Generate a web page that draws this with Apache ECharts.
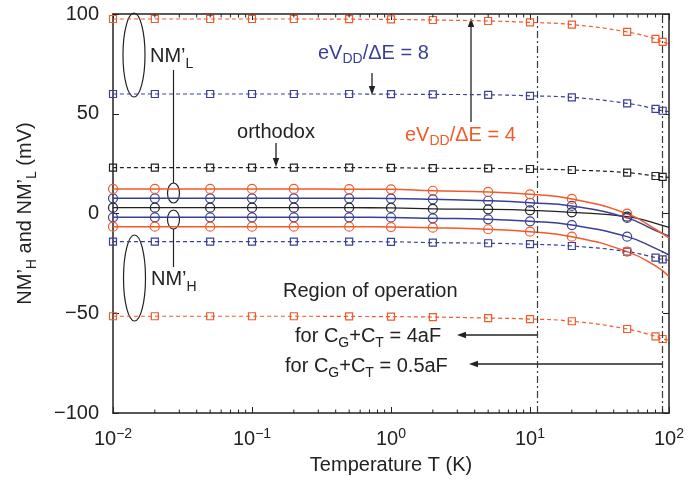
<!DOCTYPE html>
<html>
<head>
<meta charset="utf-8">
<script src="https://cdn.jsdelivr.net/npm/echarts@6/dist/echarts.min.js"></script>
<style>
  html, body { margin: 0; padding: 0; background: #fff; }
  #chart { width: 693px; height: 487px; }
</style>
</head>
<body>
<div id="chart"></div>
<script>
const FONT = '"Liberation Sans", Arial, Helvetica, sans-serif';
const ORANGE = '#f15a29';
const BLUE = '#3a3f98';
const BLACK = '#222222';

// Temperatures (K) at which the noise margins were evaluated
const tempSquares = [0.01, 0.02, 0.05, 0.1, 0.2, 0.5, 1, 2, 5, 10, 20, 50, 80, 90, 100];
const tempCircles = [0.01, 0.02, 0.05, 0.1, 0.2, 0.5, 1, 2, 5, 10, 20, 50, 80, 100];
const lastMarkedSquareT = 90;
const lastMarkedCircleT = 50;

// Noise margins (mV), C_G + C_T = 0.5 aF (dashed, square markers)
const sqRatio4High  = [97.5, 97.5, 97.5, 97.5, 97.5, 97.4, 97.3, 97.0, 96.5, 95.8, 94.7, 91.0, 87.5, 86.0, 85.0];
const sqRatio8High  = [59.9, 59.9, 59.9, 59.9, 59.9, 59.9, 59.8, 59.7, 59.5, 59.0, 58.2, 55.2, 52.4, 51.5, 51.0];
const sqOrthodox    = [23.0, 23.0, 23.0, 23.0, 23.0, 23.0, 22.9, 22.7, 22.6, 22.3, 21.8, 20.5, 18.8, 18.4, 18.1];
const sqRatio8Low   = [-14.1, -14.1, -14.1, -14.1, -14.1, -14.1, -14.2, -14.6, -14.9, -15.4, -16.3, -19.1, -22.1, -23.0, -23.4];
const sqRatio4Low   = [-51.5, -51.5, -51.5, -51.5, -51.5, -51.6, -51.7, -51.9, -52.4, -52.9, -54.0, -57.9, -61.6, -62.9, -63.4];

// Noise margins (mV), C_G + C_T = 4 aF (solid, circle markers)
const ciRatio4High  = [12.3, 12.3, 12.3, 12.3, 12.3, 12.2, 12.1, 11.4, 10.8, 9.6, 7.3, -0.1, -7.9, -12.4];
const ciRatio8High  = [7.6, 7.6, 7.6, 7.6, 7.6, 7.6, 7.5, 7.1, 6.4, 5.4, 3.8, -2.2, -8.6, -11.2];
const ciOrthodox    = [2.9, 2.9, 2.9, 2.9, 2.9, 2.9, 2.8, 2.3, 2.1, 1.6, 0.6, -1.6, -4.9, -7.0];
const ciRatio8Low   = [-1.9, -1.9, -1.9, -1.9, -1.9, -1.9, -2.0, -2.4, -2.9, -3.9, -5.8, -11.6, -17.5, -20.8];
const ciRatio4Low   = [-6.6, -6.6, -6.6, -6.6, -6.6, -6.6, -6.8, -7.1, -7.9, -9.1, -11.6, -19.1, -26.3, -31.5];

// Upper temperature limits of the operating region (K)
const boundaryT = [11.2, 90];

// Axis ticks
const yTicks = [-100, -50, 0, 50, 100];
const minorTicksT = [0.02, 0.03, 0.04, 0.05, 0.06, 0.07, 0.08, 0.09,
                     0.2, 0.3, 0.4, 0.5, 0.6, 0.7, 0.8, 0.9,
                     2, 3, 4, 5, 6, 7, 8, 9,
                     20, 30, 40, 50, 60, 70, 80, 90];

function buildLine(temps, values, lastMarked, symbol, size, color, dashed, width) {
  return {
    type: 'line',
    data: temps.map((t, i) => t <= lastMarked
      ? [t, values[i]]
      : { value: [t, values[i]], symbol: 'none' }),
    symbol: symbol,
    symbolSize: size,
    smooth: 0.5,
    lineStyle: { color: color, width: width, type: dashed ? [4, 3] : 'solid' },
    itemStyle: { color: 'rgba(0,0,0,0)', borderColor: color, borderWidth: 1.2 },
    emphasis: { disabled: true },
    silent: true,
    z: 3
  };
}

const series = [
  buildLine(tempSquares, sqRatio4High, lastMarkedSquareT, 'rect', 7, ORANGE, true, 1.2),
  buildLine(tempSquares, sqRatio8High, lastMarkedSquareT, 'rect', 7, BLUE, true, 1.2),
  buildLine(tempSquares, sqOrthodox, lastMarkedSquareT, 'rect', 7, BLACK, true, 1.2),
  buildLine(tempSquares, sqRatio8Low, lastMarkedSquareT, 'rect', 7, BLUE, true, 1.2),
  buildLine(tempSquares, sqRatio4Low, lastMarkedSquareT, 'rect', 7, ORANGE, true, 1.2),
  buildLine(tempCircles, ciOrthodox, lastMarkedCircleT, 'circle', 9, BLACK, false, 1.3),
  buildLine(tempCircles, ciRatio8High, lastMarkedCircleT, 'circle', 9, BLUE, false, 1.5),
  buildLine(tempCircles, ciRatio8Low, lastMarkedCircleT, 'circle', 9, BLUE, false, 1.5),
  buildLine(tempCircles, ciRatio4High, lastMarkedCircleT, 'circle', 9, ORANGE, false, 1.5),
  buildLine(tempCircles, ciRatio4Low, lastMarkedCircleT, 'circle', 9, ORANGE, false, 1.5)
];

// Operating-region limits as dash-dot verticals
series[0].markLine = {
  silent: true,
  symbol: ['none', 'none'],
  label: { show: false },
  lineStyle: { color: '#3a3a3a', width: 1.2, type: [7, 3, 2, 3] },
  data: boundaryT.map(t => ({ xAxis: t })),
  animation: false
};

// Logarithmic minor ticks on bottom and top edges
series.push({
  type: 'custom',
  silent: true,
  data: minorTicksT.map(t => [t, 0]),
  renderItem: function (params, api) {
    const t = api.value(0);
    const b = api.coord([t, yTicks[0]]);
    const tp = api.coord([t, yTicks[yTicks.length - 1]]);
    const st = { stroke: BLACK, lineWidth: 1 };
    return {
      type: 'group',
      children: [
        { type: 'line', shape: { x1: b[0], y1: b[1], x2: b[0], y2: b[1] - 3.5 }, style: st },
        { type: 'line', shape: { x1: tp[0], y1: tp[1], x2: tp[0], y2: tp[1] + 3.5 }, style: st }
      ]
    };
  },
  z: 5
});

function minusSign(v) {
  return v < 0 ? '\u2212' + Math.abs(v) : String(v);
}

const axisLineStyle = { color: BLACK, width: 1.5 };
const subRich = (pad) => ({ fontSize: 14, fontFamily: FONT, padding: [pad, 0, 0, 0] });

function arrow(x1, y1, x2, y2, color) {
  const a = Math.atan2(y2 - y1, x2 - x1);
  const L = 9, W = 3.2;
  const c = Math.cos(a), s = Math.sin(a);
  const bx = x2 - L * c, by = y2 - L * s;
  return [
    { type: 'line', shape: { x1: x1, y1: y1, x2: bx, y2: by }, style: { stroke: color, lineWidth: 1.3 } },
    { type: 'polygon', shape: { points: [[x2, y2], [bx - W * s, by + W * c], [bx + W * s, by - W * c]] },
      style: { fill: color } }
  ];
}

function label(text, x, y, color, rich, align) {
  return {
    type: 'text',
    style: {
      text: text, x: x, y: y, fill: color,
      fontSize: 20, fontFamily: FONT,
      align: align || 'left', verticalAlign: 'middle',
      rich: rich || {}
    },
    z: 10
  };
}

const annotations = [].concat(
  [
    { type: 'ellipse', shape: { cx: 134, cy: 55, rx: 11, ry: 42 }, style: { fill: 'none', stroke: BLACK, lineWidth: 1.2 } },
    { type: 'ellipse', shape: { cx: 173.5, cy: 193, rx: 6, ry: 10 }, style: { fill: 'none', stroke: BLACK, lineWidth: 1.2 } },
    { type: 'ellipse', shape: { cx: 173.5, cy: 219.5, rx: 6, ry: 9.5 }, style: { fill: 'none', stroke: BLACK, lineWidth: 1.2 } },
    { type: 'ellipse', shape: { cx: 134.5, cy: 278, rx: 11, ry: 43 }, style: { fill: 'none', stroke: BLACK, lineWidth: 1.2 } },
    { type: 'line', shape: { x1: 173.5, y1: 70, x2: 173.5, y2: 183 }, style: { stroke: BLACK, lineWidth: 1.2 } },
    { type: 'line', shape: { x1: 173.5, y1: 229, x2: 173.5, y2: 267 }, style: { stroke: BLACK, lineWidth: 1.2 } },
    label('NM\u2019{s|L}', 150, 56, BLACK, { s: subRich(16) }),
    label('NM\u2019{s|H}', 151, 279, BLACK, { s: subRich(16) }),
    label('orthodox', 276, 132, BLACK, {}, 'center'),
    label('eV{s|DD}/\u0394E = 8', 318, 53, BLUE, { s: Object.assign(subRich(12), { fill: BLUE }) }),
    label('eV{s|DD}/\u0394E = 4', 405, 135, ORANGE, { s: Object.assign(subRich(12), { fill: ORANGE }) }),
    label('Region of operation', 283, 291, BLACK),
    label('for C{s|G}+C{s|T} = 4aF', 295, 336, BLACK, { s: subRich(14) }),
    label('for C{s|G}+C{s|T} = 0.5aF', 285, 366, BLACK, { s: subRich(14) })
  ],
  arrow(276, 143, 276, 167, BLACK),
  arrow(372, 73, 372, 95, BLACK),
  arrow(471, 122, 471, 18, BLACK),
  arrow(537, 335, 457, 335, BLACK),
  arrow(662, 364, 469, 364, BLACK)
);

const option = {
  animation: false,
  backgroundColor: '#ffffff',
  textStyle: { fontFamily: FONT },
  grid: { left: 113, right: 24, top: 14, bottom: 74, containLabel: false },
  xAxis: [
    {
      type: 'log', logBase: 10, min: 0.01, max: 100, position: 'bottom',
      axisLine: { show: true, onZero: false, lineStyle: axisLineStyle },
      axisTick: { show: true, inside: true, length: 6, lineStyle: { color: BLACK, width: 1 } },
      splitLine: { show: false },
      axisLabel: {
        show: true, margin: 14, color: BLACK, fontSize: 20, fontFamily: FONT,
        formatter: function (v) {
          const e = Math.round(Math.log10(v));
          return '10{sup|' + minusSign(e) + '}';
        },
        rich: { sup: { fontSize: 14, fontFamily: FONT, color: BLACK, padding: [0, 0, 10, 0] } }
      },
      name: 'Temperature T (K)', nameLocation: 'middle', nameGap: 42,
      nameTextStyle: { fontSize: 20, color: BLACK, fontFamily: FONT }
    },
    {
      type: 'log', logBase: 10, min: 0.01, max: 100, position: 'top',
      axisLine: { show: true, onZero: false, lineStyle: axisLineStyle },
      axisTick: { show: true, inside: true, length: 6, lineStyle: { color: BLACK, width: 1 } },
      axisLabel: { show: false }, splitLine: { show: false }
    }
  ],
  yAxis: [
    {
      type: 'value', min: yTicks[0], max: yTicks[yTicks.length - 1], interval: 50, position: 'left',
      axisLine: { show: true, onZero: false, lineStyle: axisLineStyle },
      axisTick: { show: true, inside: true, length: 6, lineStyle: { color: BLACK, width: 1 } },
      splitLine: { show: false },
      axisLabel: { margin: 14, color: BLACK, fontSize: 20, fontFamily: FONT, formatter: minusSign },
      name: 'NM\u2019{s|H} and NM\u2019{s|L} (mV)', nameLocation: 'middle', nameGap: 74,
      nameTextStyle: {
        fontSize: 20, color: BLACK, fontFamily: FONT,
        rich: { s: { fontSize: 14, fontFamily: FONT, color: BLACK, padding: [14, 0, 0, 0] } }
      }
    },
    {
      type: 'value', min: yTicks[0], max: yTicks[yTicks.length - 1], interval: 50, position: 'right',
      axisLine: { show: true, onZero: false, lineStyle: axisLineStyle },
      axisTick: { show: true, inside: true, length: 6, lineStyle: { color: BLACK, width: 1 } },
      axisLabel: { show: false }, splitLine: { show: false }
    }
  ],
  series: series,
  graphic: { elements: annotations }
};

const chart = echarts.init(document.getElementById('chart'), null, { renderer: 'canvas' });
chart.setOption(option);
</script>
</body>
</html>
